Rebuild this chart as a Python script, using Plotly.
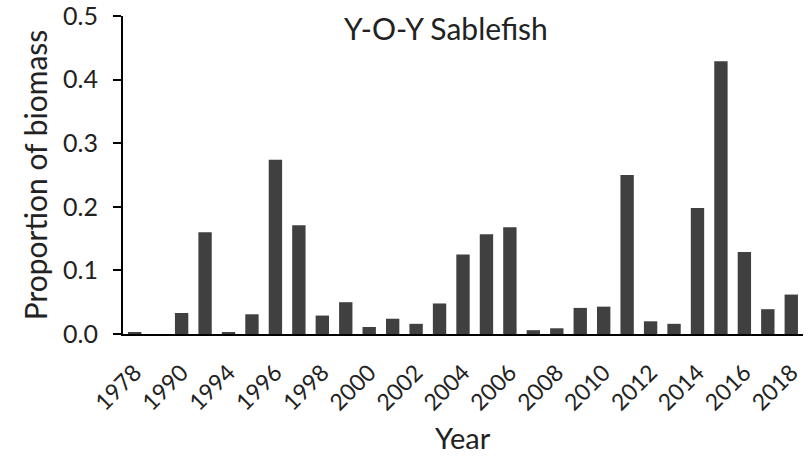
import plotly.graph_objects as go

# Survey years (two early years are unlabelled on the axis)
years = ["1978", "1987", "1990", "1993", "1994", "1995", "1996", "1997", "1998", "1999",
         "2000", "2001", "2002", "2003", "2004", "2005", "2006", "2007", "2008", "2009",
         "2010", "2011", "2012", "2013", "2014", "2015", "2016", "2017", "2018"]
proportion = [0.003, 0.0, 0.033, 0.160, 0.003, 0.031, 0.274, 0.171, 0.029, 0.050,
              0.011, 0.024, 0.016, 0.048, 0.125, 0.157, 0.168, 0.006, 0.009, 0.041,
              0.043, 0.250, 0.020, 0.016, 0.198, 0.429, 0.129, 0.039, 0.062]
y_ticks = [0.0, 0.1, 0.2, 0.3, 0.4, 0.5]
y_ticktext = ["0.0", "0.1", "0.2", "0.3", "0.4", "0.5"]

font_name = "Lato"
text_color = "#222222"

fig = go.Figure(go.Bar(
    x=years,
    y=proportion,
    marker=dict(color="#404040", line=dict(width=0)),
))

fig.update_layout(
    width=812,
    height=456,
    margin=dict(l=123, r=9, t=16, b=122),
    paper_bgcolor="white",
    plot_bgcolor="white",
    bargap=0.43,
    showlegend=False,
    font=dict(family=font_name, color=text_color),
    annotations=[
        # chart title sits inside the plot area
        dict(text="Y-O-Y Sablefish", x=0.475, y=0.962, xref="paper", yref="paper",
             xanchor="center", yanchor="middle", showarrow=False,
             font=dict(family=font_name, size=30, color=text_color)),
        # axis titles
        dict(text="Year", x=0.5, y=-0.324, xref="paper", yref="paper",
             xanchor="center", yanchor="middle", showarrow=False,
             font=dict(family=font_name, size=29, color=text_color)),
        dict(text="Proportion of biomass", x=-0.129, y=0.5, xref="paper", yref="paper",
             xanchor="center", yanchor="middle", textangle=-90, showarrow=False,
             font=dict(family=font_name, size=30, color=text_color)),
    ],
)

fig.update_xaxes(
    type="category",
    tickmode="array",
    tickvals=years[::2],
    ticktext=years[::2],
    tickangle=-45,
    tickfont=dict(size=23),
    ticklabelstandoff=14,
    showline=True, linecolor="black", linewidth=2,
    ticks="",
    showgrid=False,
    automargin=False,
)

fig.update_yaxes(
    range=[0, 0.5],
    tickmode="array",
    tickvals=y_ticks,
    ticktext=y_ticktext,
    tickfont=dict(size=25),
    ticklabelstandoff=10,
    ticklabeloverflow="allow",
    showline=True, linecolor="black", linewidth=2,
    ticks="outside", ticklen=8, tickwidth=2, tickcolor="black",
    showgrid=False,
    zeroline=False,
    automargin=False,
)

# drop the page's default body margin so the figure sits at the window corner
fig.write_html("out.html", config={"displayModeBar": False},
               post_script="document.body.style.margin='0';")
